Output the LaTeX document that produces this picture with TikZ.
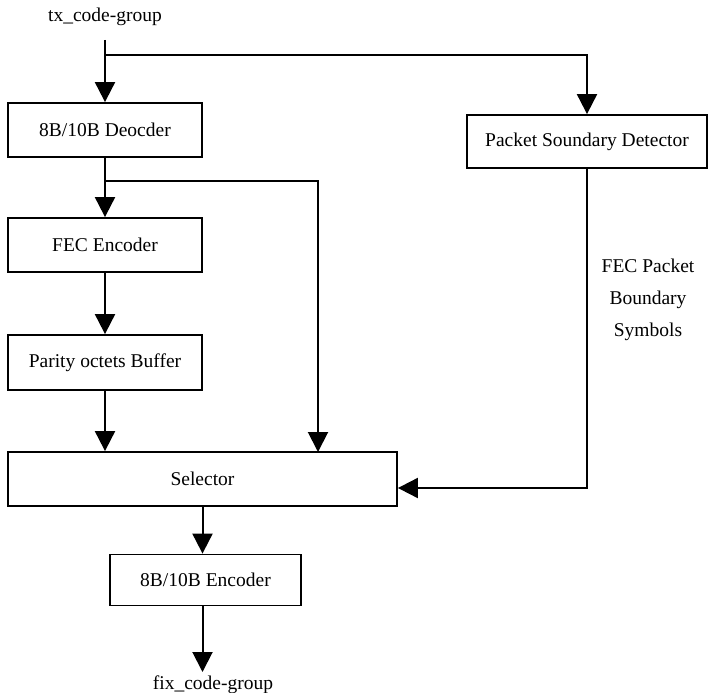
\documentclass[tikz,border=0pt]{standalone}
\usepackage{fontspec}
\setmainfont{Liberation Serif}
\usetikzlibrary{arrows.meta}

\begin{document}
\begin{tikzpicture}[x=1pt,y=-1pt,
  txt/.style={font=\fontsize{19.5}{32}\selectfont},
  block/.style={draw, line width=1.8pt, minimum width=#1, minimum height=54pt,
    inner sep=0pt, txt},
  flow/.style={line width=2pt, -{Triangle[length=20pt,width=20pt]}}]
\useasboundingbox (0,0) rectangle (708,692);

% input and output labels
\node[txt] (in) at (105,17) {tx\_code-group};
\node[txt, anchor=north] (out) at (213,672) {fix\_code-group};

% processing blocks
\node[block=194pt] (dec) at (105,130) {8B/10B Deocder};
\node[block=194pt] (fec) at (105,245) {FEC Encoder};
\node[block=194pt, minimum height=55pt] (par) at (105,362.5) {Parity octets Buffer};
\node[block=389pt] (sel) at (202.5,479) {Selector};
\node[block=191pt, minimum height=51pt] (enc) at (205.5,580) {8B/10B Encoder};
\node[block=240pt, minimum height=53pt] (psd) at (587,141.5) {Packet Soundary Detector};

% side label on the boundary line
\node[txt, align=center] (sym) at (648,300) {FEC Packet\\Boundary\\Symbols};

% junctions and free ends
\coordinate (src) at (105,40);
\coordinate (j1) at (105,55);
\coordinate (j2) at (105,181);
\coordinate (s2) at (318,452);
\coordinate (c3) at (587,488);

% connectors
\draw[flow] (src) -- (dec.north);
\draw[flow] (j1) -| (psd.north);
\draw[flow] (dec.south) -- (fec.north);
\draw[flow] (j2) -| (s2);
\draw[flow] (fec.south) -- (par.north);
\draw[flow] (par.south) -- (par.south |- sel.north);
\draw[flow] (sel.south) -- (sel.south |- enc.north);
\draw[flow] (sel.south |- enc.south) -- (sel.south |- out.north);
\draw[flow] (psd.south) -- (c3) -- (sel.east |- c3);
\end{tikzpicture}
\end{document}
